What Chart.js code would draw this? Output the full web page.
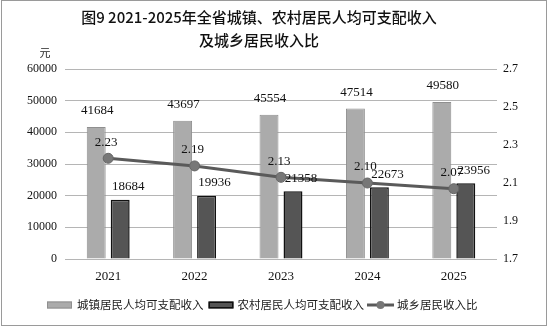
<!DOCTYPE html>
<html><head><meta charset="utf-8">
<script src="https://cdn.jsdelivr.net/npm/chart.js@4/dist/chart.umd.min.js"></script>
<style>html,body{margin:0;padding:0;background:#fff}#wrap{width:548px;height:326px}</style>
</head><body><div id="wrap"><canvas id="c" width="548" height="326"></canvas></div>
<script>
const years = ['2021','2022','2023','2024','2025'];
const urbanIncome = [41684, 43697, 45554, 47514, 49580];
const ruralIncome = [18684, 19936, 21358, 22673, 23956];
const incomeRatio = [2.23, 2.19, 2.13, 2.10, 2.07];
const leftTicks = [0, 10000, 20000, 30000, 40000, 50000, 60000];
const rightTicks = [1.7, 1.9, 2.1, 2.3, 2.5, 2.7];
const titleLines = ['图9 2021-2025年全省城镇、农村居民人均可支配收入', '及城乡居民收入比'];
const seriesNames = ['城镇居民人均可支配收入', '农村居民人均可支配收入', '城乡居民收入比'];
const unitLabel = '元';

const SERIF = '"Liberation Serif", "DejaVu Serif", serif';
const CJK = '"Noto Sans CJK SC", sans-serif';

const URBAN_FILL = '#ababab', URBAN_EDGE = '#8f8f8f';
const RURAL_FILL = '#555555', RURAL_EDGE = '#111111';
const LINE_COLOR = '#5a5a5a', POINT_FILL = '#777777';

const decor = {
  id: 'decor',
  beforeDraw(chart) {
    const ctx = chart.ctx; ctx.save();
    ctx.fillStyle = '#fff'; ctx.fillRect(0, 0, chart.width, chart.height);
    ctx.restore();
  },
  afterDraw(chart) {
    const ctx = chart.ctx; ctx.save();
    ctx.strokeStyle = '#9a9a9a'; ctx.lineWidth = 1;
    ctx.strokeRect(1.5, 0.5, chart.width - 3, chart.height - 1);
    // title
    ctx.fillStyle = '#111'; ctx.textAlign = 'center'; ctx.textBaseline = 'middle';
    ctx.font = '500 15px ' + CJK;
    ctx.fillText(titleLines[0], 259, 17);
    ctx.fillText(titleLines[1], 259, 40);
    ctx.font = '11px ' + CJK; ctx.fillStyle = '#222';
    ctx.fillText(unitLabel, 45, 53);
    // data labels
    ctx.font = '13px ' + SERIF; ctx.fillStyle = '#111';
    const m0 = chart.getDatasetMeta(0), m1 = chart.getDatasetMeta(1), m2 = chart.getDatasetMeta(2);
    m0.data.forEach((el, i) => ctx.fillText(String(urbanIncome[i]), el.x + 1, el.y - 16));
    m1.data.forEach((el, i) => ctx.fillText(String(ruralIncome[i]), el.x + 8, el.y - 13));
    m2.data.forEach((el, i) => ctx.fillText(incomeRatio[i].toFixed(2), el.x - 2, el.y - 16));
    // legend
    const ly = 305;
    ctx.font = '11.5px ' + CJK; ctx.textAlign = 'left'; ctx.fillStyle = '#222';
    let x = 47;
    ctx.fillStyle = URBAN_FILL; ctx.fillRect(x, ly - 3.5, 25, 7);
    ctx.strokeStyle = URBAN_EDGE; ctx.lineWidth = 1; ctx.strokeRect(x + 0.5, ly - 3, 24, 6);
    x += 30; ctx.fillStyle = '#222'; ctx.fillText(seriesNames[0], x, ly);
    x += ctx.measureText(seriesNames[0]).width + 5;
    ctx.fillStyle = RURAL_FILL; ctx.fillRect(x, ly - 3.5, 25, 7);
    ctx.strokeStyle = RURAL_EDGE; ctx.lineWidth = 1.5; ctx.strokeRect(x + 0.75, ly - 2.75, 23.5, 5.5);
    x += 29; ctx.fillStyle = '#222'; ctx.fillText(seriesNames[1], x, ly);
    x += ctx.measureText(seriesNames[1]).width + 3;
    ctx.strokeStyle = LINE_COLOR; ctx.lineWidth = 3;
    ctx.beginPath(); ctx.moveTo(x, ly); ctx.lineTo(x + 27, ly); ctx.stroke();
    ctx.fillStyle = POINT_FILL; ctx.beginPath(); ctx.arc(x + 13.5, ly, 4, 0, Math.PI * 2); ctx.fill();
    x += 30; ctx.fillStyle = '#222'; ctx.fillText(seriesNames[2], x, ly);
    ctx.restore();
  }
};

new Chart(document.getElementById('c'), {
  data: {
    labels: years,
    datasets: [
      { type: 'bar', label: seriesNames[0], data: urbanIncome, yAxisID: 'y',
        backgroundColor: URBAN_FILL, borderColor: URBAN_EDGE, borderWidth: 1,
        categoryPercentage: 0.555, barPercentage: 0.79, order: 2 },
      { type: 'bar', label: seriesNames[1], data: ruralIncome, yAxisID: 'y',
        backgroundColor: RURAL_FILL, borderColor: RURAL_EDGE, borderWidth: 1.5,
        categoryPercentage: 0.555, barPercentage: 0.79, order: 2 },
      { type: 'line', label: seriesNames[2], data: incomeRatio, yAxisID: 'y2',
        borderColor: LINE_COLOR, borderWidth: 3, pointRadius: 5, pointBackgroundColor: POINT_FILL,
        pointBorderColor: '#666', pointBorderWidth: 1, tension: 0, order: 1 }
    ]
  },
  options: {
    responsive: false, animation: false, devicePixelRatio: 1,
    layout: { padding: { top: 69, left: 4, right: 4, bottom: 29 } },
    plugins: { title: { display: false }, tooltip: { enabled: false }, legend: { display: false } },
    scales: {
      x: { offset: true, grid: { display: false, drawTicks: false }, border: { display: false },
        ticks: { padding: 10, color: '#111', font: { size: 13, family: SERIF } },
        afterFit(s) { s.height = 38; } },
      y: { position: 'left', min: 0, max: 60000,
        afterBuildTicks(s) { s.ticks = leftTicks.map(v => ({ value: v })); },
        grid: { color: '#b5b5b5', drawTicks: false }, border: { display: false },
        ticks: { padding: 8, color: '#111', font: { size: 12, family: SERIF }, callback: v => String(v) },
        afterFit(s) { s.width = 61; } },
      y2: { position: 'right', min: 1.7, max: 2.7,
        afterBuildTicks(s) { s.ticks = rightTicks.map(v => ({ value: v })); },
        grid: { display: false, drawTicks: false }, border: { display: false },
        ticks: { padding: 6, color: '#111', font: { size: 12, family: SERIF }, callback: v => String(Math.round(v*10)/10) },
        afterFit(s) { s.width = 47; } }
    }
  },
  plugins: [decor]
});
</script></body></html>
